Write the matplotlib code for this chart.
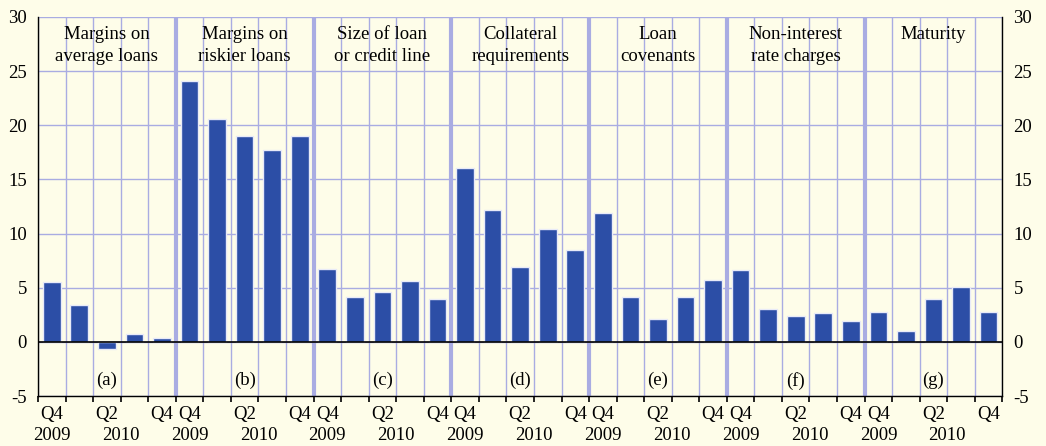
import numpy as np
import matplotlib
matplotlib.use("Agg")
import matplotlib.pyplot as plt
from matplotlib.transforms import blended_transform_factory

plt.rcParams['font.family'] = ['Liberation Serif', 'DejaVu Serif']
plt.rcParams['axes.unicode_minus'] = False

panels = ["Margins on\naverage loans", "Margins on\nriskier loans", "Size of loan\nor credit line",
          "Collateral\nrequirements", "Loan\ncovenants", "Non-interest\nrate charges", "Maturity"]
letters = ["(a)", "(b)", "(c)", "(d)", "(e)", "(f)", "(g)"]
quarters = ["Q4 2009", "Q1 2010", "Q2 2010", "Q3 2010", "Q4 2010"]
values = [
    [5.5, 3.4, -0.7, 0.7, 0.4],
    [24.1, 20.6, 19.0, 17.7, 19.0],
    [6.7, 4.1, 4.6, 5.6, 4.0],
    [16.1, 12.2, 6.9, 10.4, 8.5],
    [11.9, 4.1, 2.1, 4.1, 5.7],
    [6.6, 3.0, 2.4, 2.7, 1.9],
    [2.8, 1.0, 4.0, 5.1, 2.8],
]

bg = "#FEFDE9"
grid = "#A9ACE2"
bar_col = "#2C4EA6"
fs = 13.5

fig = plt.figure(figsize=(10.46, 4.46), dpi=100, facecolor=bg)
ax = fig.add_axes([0.0363, 0.1121, 0.9220, 0.8498], facecolor=bg)

n = len(quarters)
total = n * len(panels)
ax.set_xlim(0, total)
ax.set_ylim(-5, 30)

# grid
for y in range(-5, 31, 5):
    ax.axhline(y, color=grid, lw=1, zorder=0)
for i in range(total + 1):
    if i % n == 0 and 0 < i < total:
        ax.axvline(i, color=grid, lw=3, zorder=0)
    else:
        ax.axvline(i, color=grid, lw=1, zorder=0)

for p, vals in enumerate(values):
    x = p * n + np.arange(n) + 0.5
    ax.bar(x, vals, width=0.64, color=bar_col, edgecolor="#E8EAF8", lw=1, zorder=2)
    ax.text(p * n + n / 2, 29.2, panels[p], ha="center", va="top", fontsize=fs, linespacing=1.4)
    ax.text(p * n + 2.5, -3.6, letters[p], ha="center", va="center", fontsize=fs)

ax.axhline(0, color="black", lw=1.2, zorder=3)

ax.set_yticks(range(-5, 31, 5))
ax.tick_params(axis="y", which="both", labelsize=fs, length=0, pad=8,
               labelright=True, right=True, left=True)
ax.set_xticks(range(total + 1))
ax.set_xticklabels([])
ax.tick_params(axis="x", length=4, width=1.2, color="black", direction="out")

for s in ["left", "right", "bottom"]:
    ax.spines[s].set_color("black")
    ax.spines[s].set_linewidth(1)
ax.spines["top"].set_visible(False)

trans = blended_transform_factory(ax.transData, ax.transAxes)
for p in range(len(panels)):
    b = p * n
    ax.text(b + 0.5, -0.05, "Q4", ha="center", va="center", fontsize=fs, transform=trans)
    ax.text(b + 0.5, -0.104, "2009", ha="center", va="center", fontsize=fs, transform=trans)
    ax.text(b + 2.5, -0.05, "Q2", ha="center", va="center", fontsize=fs, transform=trans)
    ax.text(b + 3.0, -0.104, "2010", ha="center", va="center", fontsize=fs, transform=trans)
    ax.text(b + 4.5, -0.05, "Q4", ha="center", va="center", fontsize=fs, transform=trans)

fig.savefig("out.png", dpi=100, facecolor=bg)
